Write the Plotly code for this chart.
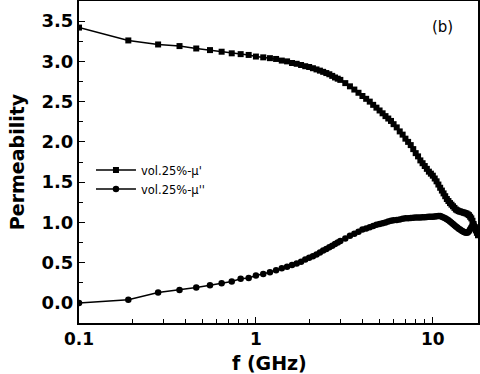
import plotly.graph_objects as go

# frequency (GHz) and permeability
freq = [0.1, 0.19, 0.28, 0.37, 0.46, 0.55, 0.64, 0.73, 0.82, 0.91,
        1.0, 1.1, 1.2, 1.3, 1.4, 1.5, 1.6, 1.7, 1.8, 1.9,
        2.0, 2.1, 2.2, 2.3, 2.4, 2.5, 2.6, 2.7, 2.8, 2.9,
        3.0, 3.2, 3.4, 3.6, 3.8, 4.0, 4.2, 4.4, 4.6, 4.8,
        5.0, 5.2, 5.4, 5.6, 5.8, 6.0, 6.25, 6.5, 6.75, 7.0,
        7.25, 7.5, 7.75, 8.0, 8.25, 8.5, 8.75, 9.0, 9.25, 9.5,
        9.75, 10.0, 10.25, 10.5, 10.75, 11.0, 11.25, 11.5, 11.75, 12.0,
        12.25, 12.5, 12.75, 13.0, 13.25, 13.5, 13.75, 14.0, 14.25, 14.5,
        14.75, 15.0, 15.25, 15.5, 15.75, 16.0, 16.25, 16.5, 16.75, 17.0,
        17.25, 17.5, 17.75, 18.0]
mu_real = [3.42, 3.26, 3.21, 3.19, 3.16, 3.14, 3.12, 3.10, 3.09, 3.08,
           3.06, 3.05, 3.04, 3.03, 3.01, 3.00, 2.98, 2.97, 2.955, 2.94,
           2.93, 2.915, 2.90, 2.885, 2.87, 2.855, 2.84, 2.82, 2.80, 2.785,
           2.77, 2.73, 2.69, 2.65, 2.61, 2.57, 2.535, 2.50, 2.46, 2.425,
           2.39, 2.355, 2.32, 2.29, 2.26, 2.22, 2.18, 2.13, 2.09, 2.04,
           2.00, 1.96, 1.91, 1.86, 1.82, 1.77, 1.735, 1.70, 1.665, 1.63,
           1.605, 1.58, 1.545, 1.51, 1.47, 1.43, 1.395, 1.36, 1.325, 1.29,
           1.265, 1.24, 1.22, 1.20, 1.18, 1.16, 1.15, 1.14, 1.135, 1.13,
           1.125, 1.12, 1.115, 1.11, 1.10, 1.09, 1.07, 1.05, 1.02, 0.98,
           0.94, 0.90, 0.87, 0.84]
mu_imag = [0.00, 0.04, 0.13, 0.16, 0.19, 0.22, 0.245, 0.265, 0.30, 0.31,
           0.34, 0.36, 0.38, 0.405, 0.43, 0.45, 0.47, 0.49, 0.51, 0.54,
           0.56, 0.58, 0.60, 0.625, 0.65, 0.67, 0.69, 0.71, 0.73, 0.75,
           0.77, 0.80, 0.835, 0.86, 0.885, 0.91, 0.925, 0.94, 0.955, 0.97,
           0.98, 0.99, 1.00, 1.01, 1.02, 1.025, 1.03, 1.035, 1.045, 1.05,
           1.05, 1.055, 1.058, 1.06, 1.06, 1.06, 1.063, 1.065, 1.068, 1.07,
           1.07, 1.07, 1.072, 1.075, 1.078, 1.08, 1.07, 1.06, 1.05, 1.04,
           1.025, 1.01, 0.995, 0.98, 0.965, 0.95, 0.935, 0.92, 0.91, 0.90,
           0.89, 0.88, 0.875, 0.87, 0.875, 0.89, 0.915, 0.94, 0.96, 0.97,
           0.95, 0.92, 0.89, 0.86]

fig = go.Figure()
fig.add_trace(go.Scatter(x=freq, y=mu_real, mode="lines+markers", name="vol.25%-μ'",
                         line=dict(color="black", width=1.5),
                         marker=dict(symbol="square", size=6, color="black")))
fig.add_trace(go.Scatter(x=freq, y=mu_imag, mode="lines+markers", name="vol.25%-μ''",
                         line=dict(color="black", width=1.5),
                         marker=dict(symbol="circle", size=6.5, color="black")))

fig.add_annotation(x=0.912, y=0.919, xref="paper", yref="paper", text="(b)", showarrow=False,
                   xanchor="center", yanchor="middle",
                   font=dict(size=15, color="black", family="DejaVu Sans"))
# axis titles
fig.add_annotation(x=0.478, y=-0.124, xref="paper", yref="paper", text="<b>f (GHz)</b>",
                   showarrow=False, xanchor="center", yanchor="middle",
                   font=dict(size=19, family="DejaVu Sans"))
fig.add_annotation(x=-0.155, y=0.5, xref="paper", yref="paper", text="<b>Permeability</b>",
                   showarrow=False, textangle=-90, xanchor="center", yanchor="middle",
                   font=dict(size=19, family="DejaVu Sans"))

fig.update_layout(
    width=480, height=374,
    margin=dict(l=79, r=2, t=1, b=51),
    plot_bgcolor="white", paper_bgcolor="white",
    font=dict(family="DejaVu Sans", color="black"),
    legend=dict(x=0.03, y=0.52, xanchor="left", yanchor="top", bgcolor="rgba(0,0,0,0)",
                font=dict(size=11.5), tracegroupgap=0, itemwidth=40),
    xaxis=dict(type="log", range=[-1, 1.2553], showline=True, linecolor="black", linewidth=2,
               mirror=True, showgrid=False, zeroline=False, automargin=False,
               tickvals=[0.1, 1, 10], ticktext=["<b>0.1</b>", "<b>1</b>", "<b>10</b>"],
               ticks="inside", ticklen=6, tickcolor="black",
               tickfont=dict(size=17),
               minor=dict(ticks="inside", ticklen=4, tickcolor="black", dtick="D1", showgrid=False)),
    yaxis=dict(range=[-0.25, 3.75], showline=True, linecolor="black", linewidth=2,
               mirror=True, showgrid=False, zeroline=False, automargin=False,
               tickvals=[0, 0.5, 1, 1.5, 2, 2.5, 3, 3.5],
               ticktext=["<b>%.1f</b>" % v for v in [0, 0.5, 1, 1.5, 2, 2.5, 3, 3.5]],
               ticks="inside", ticklen=6, tickcolor="black",
               tickfont=dict(size=18),
               minor=dict(ticks="inside", ticklen=4, tickcolor="black", dtick=0.25, showgrid=False)),
)

# page body has a default 8px margin; remove it so the figure sits at the window corner
fig.write_html("out.html", config={"displayModeBar": False},
               post_script="document.body.style.margin='0';")
